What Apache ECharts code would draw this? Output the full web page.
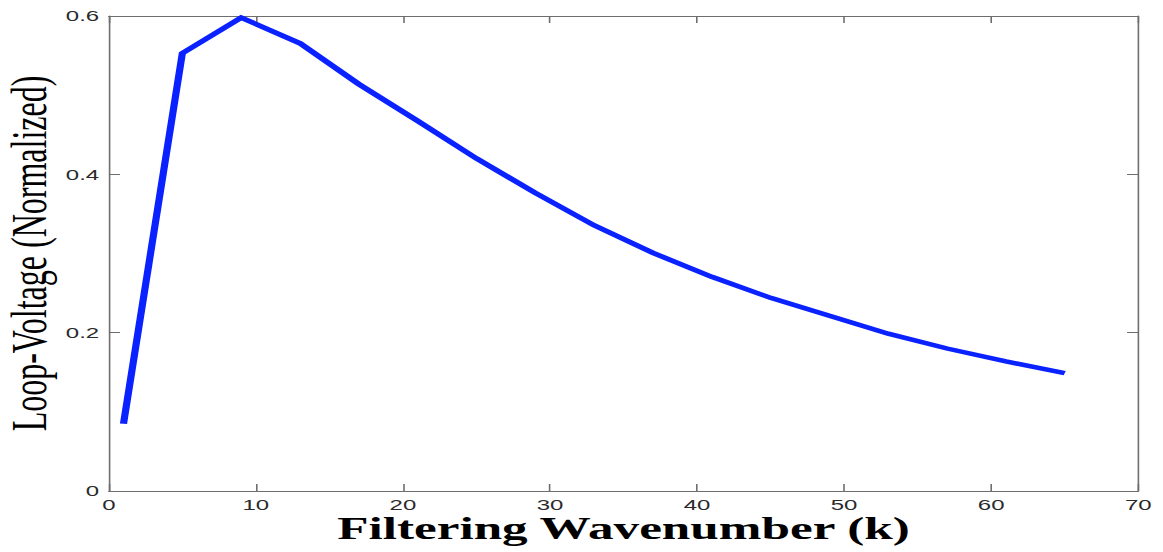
<!DOCTYPE html>
<html>
<head>
<meta charset="utf-8">
<style>
  html, body { margin: 0; padding: 0; background: #ffffff; overflow: hidden; }
  /* The figure is laid out narrow and widened horizontally, giving the wide-glyph look */
  #main { width: 727px; height: 552px; transform: scaleX(1.6); transform-origin: 0 0; }
</style>
<script src="https://cdn.jsdelivr.net/npm/echarts@6/dist/echarts.min.js"></script>
</head>
<body>
<div id="main"></div>
<script>
// Filtering wavenumber k and the normalized loop voltage at each k
const wavenumbers = [1, 5, 9, 13, 17, 21, 25, 29, 33, 37, 41, 45, 49, 53, 57, 61, 65];
const loopVoltage = [0.085, 0.553, 0.598, 0.5655, 0.514, 0.4675, 0.420, 0.3766, 0.3356,
                     0.3008, 0.2706, 0.244, 0.2213, 0.1987, 0.180, 0.1637, 0.149];
const xTicks = { min: 0, max: 70, interval: 10 };
const yTicks = { min: 0, max: 0.6, interval: 0.2 };

const axisColor = '#6e6e6e';
const tickFont = { fontFamily: 'Liberation Sans', fontSize: 15, lineHeight: 14, color: '#2a2a2a' };

const chart = echarts.init(document.getElementById('main'), null, { renderer: 'svg' });

const frameAxis = (extra) => Object.assign({
  type: 'value',
  axisLine: { show: true, onZero: false, lineStyle: { color: axisColor, width: 1 } },
  axisTick: { show: true, inside: true, length: 7, lineStyle: { color: axisColor, width: 1 } },
  splitLine: { show: false }
}, extra);

chart.setOption({
  animation: false,
  backgroundColor: '#ffffff',
  grid: { left: 68, right: 15.6, top: 16, bottom: 61, containLabel: false, outerBoundsMode: 'none' },
  xAxis: [
    frameAxis(Object.assign({}, xTicks, {
      position: 'bottom',
      axisLabel: Object.assign({ margin: 7 }, tickFont),
      name: 'Filtering Wavenumber (k)',
      nameLocation: 'middle',
      nameGap: 26,
      nameMoveOverlap: false,
      nameTextStyle: { fontFamily: 'Liberation Serif', fontWeight: 'bold', fontSize: 32, lineHeight: 22, color: '#000000' }
    })),
    frameAxis(Object.assign({}, xTicks, { position: 'top', axisLabel: { show: false } }))
  ],
  yAxis: [
    frameAxis(Object.assign({}, yTicks, {
      position: 'left',
      axisLabel: Object.assign({ margin: 6, formatter: v => (v === 0 ? '0' : v.toFixed(1)) }, tickFont),
      name: 'Loop-Voltage (Normalized)',
      nameLocation: 'middle',
      nameGap: 34,
      nameRotate: 90,
      nameMoveOverlap: false,
      nameTextStyle: { fontFamily: 'Liberation Serif', fontSize: 32, color: '#000000' }
    })),
    frameAxis(Object.assign({}, yTicks, { position: 'right', axisLabel: { show: false } }))
  ],
  series: [{
    type: 'line',
    xAxisIndex: 0,
    yAxisIndex: 0,
    data: wavenumbers.map((k, i) => [k, loopVoltage[i]]),
    showSymbol: false,
    symbol: 'none',
    lineStyle: { color: '#0a22ff', width: 4.5, join: 'miter' }
  }]
});
</script>
</body>
</html>
